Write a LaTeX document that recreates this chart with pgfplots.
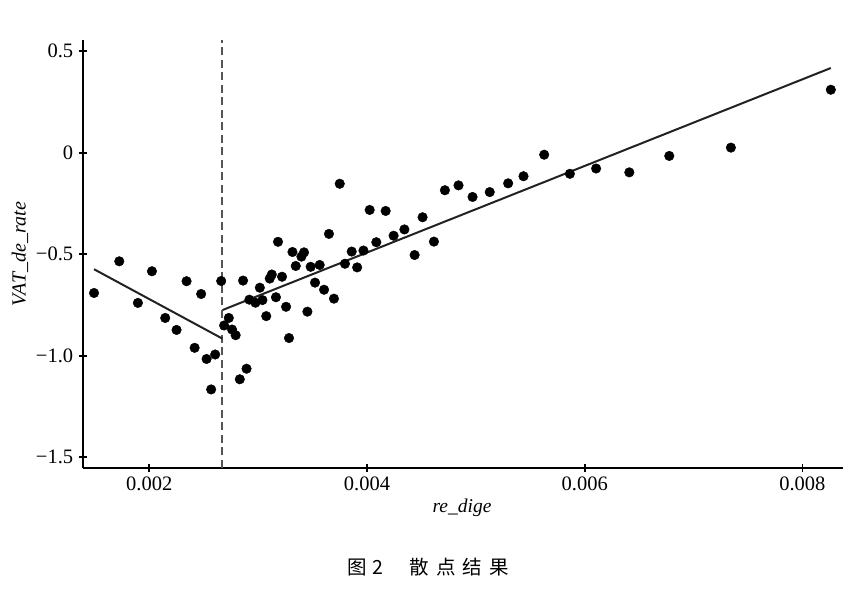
\documentclass[border=0pt]{standalone}
\usepackage{pgfplots}
\pgfplotsset{compat=1.18}
\usepackage{fontspec}
\setmainfont{Liberation Serif}
\newfontfamily\cjk{Noto Sans CJK SC}

\definecolor{fitline}{HTML}{222222}
\definecolor{cutline}{HTML}{555555}

\begin{document}
\begin{tikzpicture}
  % page is 865 x 590 bp, one bp per reference pixel
  \useasboundingbox (0,0) rectangle (865bp,590bp);

  \begin{axis}[
    at={(82.7bp,122bp)}, anchor=south west,
    scale only axis,
    width=760bp, height=428bp,
    xmin=0.001389, xmax=0.00837,
    ymin=-1.553, ymax=0.555,
    axis lines=left,
    axis line style={line width=2.2bp, -},
    tick style={line width=1.8bp, black},
    major tick length=8bp,
    xtick={0.002,0.004,0.006,0.008},
    xticklabels={0.002,0.004,0.006,0.008},
    ytick={-1.5,-1,-0.5,0,0.5},
    yticklabels={−1.5,−1.0,−0.5,0,0.5},
    scaled x ticks=false,
    tick label style={font=\fontsize{20.5bp}{23bp}\selectfont},
    xticklabel style={yshift=-1bp},
    yticklabel style={xshift=-2bp},
    clip=false
  ]

    % cut-off point
    \addplot[cutline, line width=2bp, dash pattern=on 8bp off 4.5bp]
      coordinates {(0.002673,-1.553) (0.002673,0.555)};

    % fitted lines on each side
    \addplot[fitline, line width=2bp]
      coordinates {(0.001493,-0.574) (0.002673,-0.916)};
    \addplot[fitline, line width=2bp]
      coordinates {(0.002673,-0.775) (0.008261,0.417)};

    % scatter
    \addplot[only marks, mark=*, mark size=4.8bp, black] coordinates {
      (0.001493,-0.691) (0.001725,-0.535) (0.001896,-0.740) (0.002025,-0.584)
      (0.002147,-0.814) (0.002251,-0.873) (0.002343,-0.633) (0.002417,-0.961)
      (0.002477,-0.696) (0.002527,-1.016) (0.002569,-1.166) (0.002606,-0.994)
      (0.002661,-0.632) (0.002688,-0.851) (0.002731,-0.814) (0.002761,-0.871)
      (0.002794,-0.899) (0.002832,-1.116) (0.002894,-1.064) (0.002862,-0.630)
      (0.002920,-0.724) (0.002976,-0.739) (0.003040,-0.726) (0.003016,-0.665)
      (0.003075,-0.805) (0.003107,-0.620) (0.003126,-0.600) (0.003164,-0.712)
      (0.003183,-0.439) (0.003220,-0.611) (0.003257,-0.759) (0.003284,-0.913)
      (0.003316,-0.489) (0.003346,-0.558) (0.003398,-0.512) (0.003422,-0.491)
      (0.003453,-0.783) (0.003483,-0.562) (0.003523,-0.640) (0.003566,-0.553)
      (0.003606,-0.675) (0.003651,-0.400) (0.003697,-0.719) (0.003750,-0.153)
      (0.003798,-0.547) (0.003860,-0.487) (0.003910,-0.565) (0.003968,-0.482)
      (0.004025,-0.282) (0.004086,-0.441) (0.004172,-0.287) (0.004245,-0.409)
      (0.004344,-0.378) (0.004438,-0.504) (0.004511,-0.318) (0.004615,-0.438)
      (0.004716,-0.185) (0.004841,-0.161) (0.004970,-0.218) (0.005128,-0.194)
      (0.005297,-0.151) (0.005438,-0.116) (0.005628,-0.010) (0.005864,-0.104)
      (0.006105,-0.078) (0.006410,-0.097) (0.006777,-0.016) (0.007343,0.025)
      (0.008261,0.310)
    };

  \end{axis}

  % axis titles and caption
  \node at (462bp,82bp) {\fontsize{19.5bp}{22bp}\selectfont\itshape re\_dige};
  \node[rotate=90] at (20bp,336bp) {\fontsize{20bp}{22bp}\selectfont\itshape VAT\_de\_rate};
  \node at (428bp,23bp) {\fontsize{19.5bp}{22bp}\selectfont\cjk
    图\hspace{6bp}2\hspace{26bp}散\hspace{7bp}点\hspace{7bp}结\hspace{7bp}果};
\end{tikzpicture}
\end{document}
